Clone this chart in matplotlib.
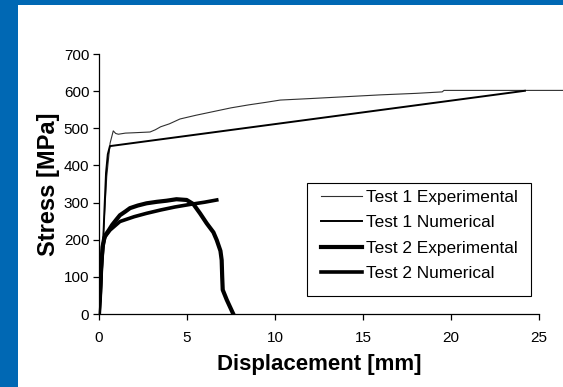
import matplotlib
matplotlib.use("Agg")
import matplotlib.pyplot as plt
from matplotlib.patches import Rectangle

plt.rcParams['font.family'] = ['Liberation Sans', 'DejaVu Sans']

# Test 1 experimental (thin line)
t1_exp_x = [0.0, 0.1, 0.23, 0.44, 0.63, 0.81, 0.95, 1.1, 1.5, 2.0, 2.9, 3.2, 3.5, 4.0,
            4.6, 5.5, 6.5, 7.5, 8.5, 9.5, 10.3, 12.0, 14.0, 16.0, 18.0, 19.5, 19.6, 26.5]
t1_exp_y = [0, 60, 199, 370, 460, 493, 486, 484, 487, 488, 490, 496, 504, 512,
            525, 535, 545, 555, 563, 570, 576, 580, 585, 590, 594, 598, 602, 602]

# Test 1 numerical
t1_num_x = [0.0, 0.1, 0.2, 0.3, 0.4, 0.5, 0.62, 24.2]
t1_num_y = [0, 50, 150, 270, 380, 430, 452, 601]

# Test 2 experimental (thick line)
t2_exp_x = [0.0, 0.05, 0.12, 0.2, 0.3, 0.4, 0.55, 0.75, 1.0, 1.19, 1.5, 1.76, 2.2, 2.7,
            3.28, 3.84, 4.4, 4.98, 5.36, 5.74, 6.12, 6.5, 6.69, 6.9, 6.97, 7.0, 7.03,
            7.26, 7.63]
t2_exp_y = [0, 40, 120, 180, 205, 215, 225, 240, 255, 266, 276, 285, 292, 298,
            302, 305, 309, 307, 296, 271, 244, 220, 199, 170, 145, 100, 65,
            38, 0]

# Test 2 numerical
t2_num_x = [0.0, 0.08, 0.15, 0.25, 0.34, 0.63, 1.19, 2.0, 2.7, 3.5, 4.3, 5.17, 6.0, 6.69]
t2_num_y = [0, 60, 145, 190, 208, 226, 249, 262, 271, 280, 288, 295, 301, 307]

x_ticks = [0, 5, 10, 15, 20, 25]
y_ticks = [0, 100, 200, 300, 400, 500, 600, 700]

W, H = 563, 387
fig = plt.figure(figsize=(W / 100, H / 100), dpi=100)
fig.patch.set_facecolor('white')

# blue frame along the left and top edges
blue = '#0068B4'
fig.add_artist(Rectangle((0, 0), 18 / W, 1, transform=fig.transFigure,
                         facecolor=blue, edgecolor='none', zorder=0))
fig.add_artist(Rectangle((0, 1 - 5 / H), 1, 5 / H, transform=fig.transFigure,
                         facecolor=blue, edgecolor='none', zorder=0))

ax = fig.add_axes([99 / W, (H - 314) / H, 440 / W, 260 / H])
ax.set_facecolor('none')

l1, = ax.plot(t1_exp_x, t1_exp_y, color='#303030', lw=0.8, clip_on=False,
              label='Test 1 Experimental')
l2, = ax.plot(t1_num_x, t1_num_y, color='black', lw=1.4, label='Test 1 Numerical')
l3, = ax.plot(t2_exp_x, t2_exp_y, color='black', lw=3.0, solid_joinstyle='round',
              label='Test 2 Experimental')
l4, = ax.plot(t2_num_x, t2_num_y, color='black', lw=2.6, label='Test 2 Numerical')

ax.set_xlim(0, 25)
ax.set_ylim(0, 700)
ax.set_xticks(x_ticks)
ax.set_yticks(y_ticks)
ax.set_xticklabels([str(v) for v in x_ticks])
ax.set_yticklabels([str(v) for v in y_ticks])
for s in ('top', 'right'):
    ax.spines[s].set_visible(False)
for s in ('left', 'bottom'):
    ax.spines[s].set_linewidth(0.9)
    ax.spines[s].set_color('black')
ax.tick_params(direction='out', length=4, width=0.9, labelsize=11, colors='black')
ax.tick_params(axis='x', pad=8)
ax.tick_params(axis='y', pad=3)

ax.set_xlabel('Displacement [mm]', fontsize=16, fontweight='bold', labelpad=7)
ax.set_ylabel('Stress [MPa]', fontsize=17, fontweight='bold', labelpad=3)

# legend entries without frame, boxed by a separate rectangle
ax.add_patch(Rectangle((307 / W, 1 - 296 / H), 224 / W, 113 / H,
                       transform=fig.transFigure, facecolor='white',
                       edgecolor='black', linewidth=0.8, zorder=4, clip_on=False))
leg = ax.legend(handles=[l1, l2, l3, l4], loc='upper left',
                bbox_to_anchor=(321 / W, 1 - 190 / H), bbox_transform=fig.transFigure,
                fontsize=12.4, frameon=False,
                handlelength=2.4, handletextpad=0.2, labelspacing=0.6,
                borderpad=0, borderaxespad=0)
leg.set_zorder(6)

fig.savefig('out.png', dpi=100, facecolor='white')
